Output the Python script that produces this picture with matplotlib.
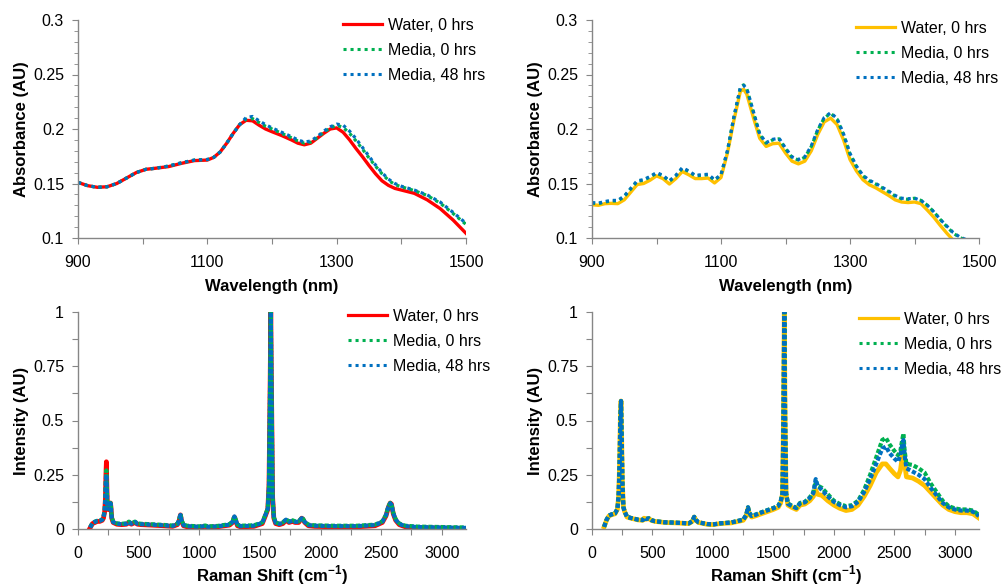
import matplotlib
matplotlib.use('Agg')
import matplotlib.pyplot as plt
from matplotlib.lines import Line2D
from matplotlib.ticker import MultipleLocator, FixedLocator, FixedFormatter

plt.rcParams['font.family'] = ['Liberation Sans', 'DejaVu Sans']
plt.rcParams['mathtext.fontset'] = 'custom'
plt.rcParams['mathtext.rm'] = 'Liberation Sans'
plt.rcParams['mathtext.bf'] = 'Liberation Sans:bold'

## data ##

labels = ['Water, 0 hrs', 'Media, 0 hrs', 'Media, 48 hrs']

# NIR, left panel
nir_x_a = [900, 915, 930, 945, 960, 975, 990, 1005, 1020, 1040, 1060, 1080, 1100, 1110, 1120,
           1130, 1140, 1150, 1160, 1170, 1180, 1190, 1200, 1215, 1230, 1240, 1250, 1260, 1270,
           1280, 1290, 1300, 1310, 1320, 1330, 1340, 1350, 1360, 1370, 1380, 1390, 1400, 1420,
           1440, 1460, 1480, 1500]
nir_water_a = [0.151, 0.148, 0.1465, 0.147, 0.150, 0.155, 0.160, 0.163, 0.164, 0.1655, 0.1685,
               0.171, 0.1715, 0.174, 0.179, 0.187, 0.196, 0.204, 0.208, 0.2075, 0.2035, 0.200,
               0.1975, 0.194, 0.190, 0.187, 0.1855, 0.187, 0.1915, 0.196, 0.200, 0.201, 0.197,
               0.190, 0.182, 0.1745, 0.1665, 0.159, 0.1525, 0.1483, 0.1455, 0.144, 0.141, 0.135,
               0.127, 0.1165, 0.1043]
nir_media0_a = [0.151, 0.148, 0.1465, 0.147, 0.150, 0.155, 0.160, 0.163, 0.164, 0.166, 0.169,
                0.1715, 0.172, 0.174, 0.179, 0.187, 0.196, 0.204, 0.209, 0.2095, 0.206, 0.2025,
                0.200, 0.196, 0.192, 0.189, 0.187, 0.188, 0.192, 0.197, 0.201, 0.2035, 0.2015,
                0.196, 0.189, 0.1815, 0.1735, 0.166, 0.159, 0.153, 0.149, 0.147, 0.1435, 0.139,
                0.132, 0.1225, 0.1125]
nir_media48_a = [0.151, 0.148, 0.1465, 0.147, 0.150, 0.155, 0.160, 0.163, 0.164, 0.166, 0.169,
                 0.1715, 0.172, 0.174, 0.179, 0.187, 0.196, 0.204, 0.2105, 0.2115, 0.2075, 0.204,
                 0.201, 0.197, 0.193, 0.190, 0.188, 0.189, 0.193, 0.198, 0.202, 0.2045, 0.2035,
                 0.198, 0.191, 0.183, 0.175, 0.167, 0.160, 0.154, 0.150, 0.1475, 0.144, 0.1395,
                 0.133, 0.1235, 0.1135]

# NIR, right panel
nir_x_b = [900, 910, 920, 930, 940, 950, 960, 970, 980, 990, 1000, 1010, 1020, 1030, 1040, 1050,
           1060, 1070, 1080, 1090, 1100, 1110, 1120, 1130, 1135, 1140, 1150, 1160, 1170, 1180,
           1190, 1200, 1210, 1220, 1230, 1240, 1250, 1260, 1270, 1280, 1290, 1300, 1310, 1320,
           1330, 1340, 1350, 1360, 1370, 1380, 1390, 1400, 1410, 1420, 1430, 1440, 1450, 1460,
           1470, 1480, 1490, 1500]
nir_water_b = [0.1305, 0.130, 0.1315, 0.1318, 0.1315, 0.135, 0.142, 0.149, 0.150, 0.153, 0.157,
               0.1545, 0.1495, 0.1545, 0.161, 0.158, 0.1545, 0.1545, 0.155, 0.1505, 0.1555, 0.178,
               0.208, 0.2345, 0.2365, 0.232, 0.211, 0.1915, 0.184, 0.1865, 0.187, 0.178, 0.1705,
               0.168, 0.1705, 0.180, 0.195, 0.2065, 0.210, 0.204, 0.190, 0.172, 0.1615, 0.1535,
               0.1488, 0.146, 0.1425, 0.139, 0.135, 0.133, 0.1325, 0.133, 0.1315, 0.1255, 0.119,
               0.1115, 0.1045, 0.098, 0.092, 0.086, 0.080, 0.074]
nir_media0_b = [0.132, 0.1315, 0.133, 0.134, 0.134, 0.138, 0.145, 0.152, 0.153, 0.156, 0.1595,
                0.157, 0.152, 0.157, 0.164, 0.161, 0.157, 0.1575, 0.158, 0.153, 0.158, 0.180,
                0.211, 0.238, 0.2405, 0.237, 0.216, 0.195, 0.187, 0.190, 0.191, 0.182, 0.174,
                0.1715, 0.174, 0.184, 0.199, 0.210, 0.2145, 0.209, 0.195, 0.177, 0.1655, 0.157,
                0.1525, 0.1495, 0.146, 0.1425, 0.1385, 0.136, 0.1355, 0.1365, 0.1345, 0.130,
                0.124, 0.117, 0.1105, 0.1045, 0.1005, 0.098, 0.095, 0.092]
nir_media48_b = [0.1325, 0.132, 0.1335, 0.1345, 0.1345, 0.1385, 0.1455, 0.1525, 0.1535, 0.1565,
                 0.160, 0.1575, 0.1525, 0.1575, 0.1645, 0.1615, 0.1575, 0.158, 0.1585, 0.1535,
                 0.158, 0.180, 0.211, 0.238, 0.240, 0.237, 0.2165, 0.1955, 0.1875, 0.1905, 0.1915,
                 0.1825, 0.1745, 0.172, 0.1745, 0.1845, 0.1995, 0.2105, 0.215, 0.2095, 0.1955,
                 0.1775, 0.166, 0.1575, 0.153, 0.150, 0.1465, 0.143, 0.139, 0.1365, 0.136, 0.1365,
                 0.1345, 0.130, 0.124, 0.117, 0.111, 0.105, 0.101, 0.0985, 0.0955, 0.0925]

# Raman, left panel
ram_x_a = [100, 120, 140, 160, 180, 200, 210, 220, 226, 230, 234, 238, 242, 248, 255, 262, 268,
           272, 278, 290, 320, 360, 400, 420, 440, 470, 490, 520, 600, 700, 780, 820, 835, 845,
           855, 870, 900, 1000, 1050, 1070, 1150, 1250, 1275, 1290, 1300, 1315, 1340, 1450, 1520,
           1545, 1555, 1565, 1575, 1585, 1590, 1595, 1605, 1615, 1630, 1660, 1690, 1715, 1740,
           1770, 1790, 1820, 1845, 1855, 1870, 1900, 1950, 2100, 2300, 2450, 2510, 2540, 2560,
           2575, 2585, 2600, 2620, 2650, 2700, 2800, 2900, 3000, 3100, 3200]
ram_water_a = [0.005, 0.025, 0.030, 0.035, 0.035, 0.040, 0.050, 0.080, 0.140, 0.250, 0.310,
               0.200, 0.110, 0.090, 0.090, 0.100, 0.120, 0.100, 0.050, 0.030, 0.022, 0.020,
               0.022, 0.030, 0.022, 0.030, 0.022, 0.020, 0.018, 0.015, 0.012, 0.020, 0.040,
               0.065, 0.035, 0.015, 0.010, 0.008, 0.012, 0.008, 0.010, 0.018, 0.030, 0.055,
               0.040, 0.015, 0.010, 0.012, 0.025, 0.060, 0.075, 0.090, 0.200, 0.700, 1.000,
               0.700, 0.150, 0.050, 0.025, 0.020, 0.025, 0.040, 0.030, 0.035, 0.030, 0.030,
               0.050, 0.045, 0.030, 0.015, 0.012, 0.010, 0.010, 0.015, 0.030, 0.060, 0.100,
               0.120, 0.115, 0.070, 0.040, 0.020, 0.010, 0.006, 0.005, 0.004, 0.003, 0.002]
ram_media0_a = [0.008, 0.028, 0.034, 0.038, 0.039, 0.044, 0.055, 0.085, 0.150, 0.230, 0.270,
                0.190, 0.115, 0.095, 0.095, 0.105, 0.120, 0.100, 0.055, 0.034, 0.026, 0.024,
                0.026, 0.034, 0.026, 0.034, 0.026, 0.024, 0.022, 0.019, 0.016, 0.024, 0.045,
                0.070, 0.040, 0.020, 0.015, 0.012, 0.016, 0.012, 0.014, 0.022, 0.035, 0.060,
                0.045, 0.020, 0.015, 0.017, 0.030, 0.065, 0.080, 0.095, 0.200, 0.700, 1.000,
                0.700, 0.150, 0.055, 0.030, 0.025, 0.030, 0.045, 0.035, 0.040, 0.035, 0.035,
                0.052, 0.048, 0.034, 0.020, 0.017, 0.015, 0.015, 0.020, 0.035, 0.065, 0.105,
                0.120, 0.115, 0.075, 0.045, 0.025, 0.015, 0.011, 0.010, 0.009, 0.008, 0.007]
ram_media48_a = [0.007, 0.027, 0.033, 0.037, 0.038, 0.043, 0.053, 0.082, 0.145, 0.220, 0.250,
                 0.185, 0.112, 0.093, 0.093, 0.103, 0.118, 0.098, 0.053, 0.032, 0.024, 0.022,
                 0.024, 0.032, 0.024, 0.032, 0.024, 0.022, 0.020, 0.017, 0.014, 0.022, 0.043,
                 0.065, 0.038, 0.018, 0.013, 0.010, 0.014, 0.010, 0.012, 0.020, 0.033, 0.058,
                 0.043, 0.018, 0.013, 0.015, 0.028, 0.063, 0.078, 0.093, 0.200, 0.700, 1.000,
                 0.700, 0.150, 0.053, 0.028, 0.023, 0.028, 0.043, 0.033, 0.038, 0.033, 0.033,
                 0.050, 0.046, 0.032, 0.018, 0.015, 0.013, 0.013, 0.018, 0.033, 0.063, 0.103,
                 0.118, 0.113, 0.073, 0.043, 0.023, 0.013, 0.009, 0.008, 0.007, 0.006, 0.005]

# Raman, right panel
ram_x_b = [100, 120, 140, 160, 190, 210, 220, 228, 234, 240, 246, 252, 260, 270, 290, 320, 380,
           420, 430, 445, 470, 490, 520, 600, 700, 800, 830, 845, 860, 880, 950, 1000, 1060, 1150,
           1250, 1275, 1290, 1300, 1320, 1350, 1400, 1450, 1500, 1540, 1560, 1575, 1583, 1590,
           1597, 1605, 1620, 1650, 1690, 1720, 1760, 1800, 1830, 1850, 1865, 1900, 1950, 2000,
           2050, 2100, 2150, 2200, 2250, 2300, 2350, 2400, 2430, 2460, 2500, 2530, 2550, 2565,
           2575, 2585, 2600, 2650, 2700, 2750, 2800, 2850, 2900, 2950, 3000, 3050, 3100, 3150,
           3200]
ram_water_b = [0.010, 0.040, 0.060, 0.065, 0.070, 0.090, 0.150, 0.300, 0.500, 0.590, 0.400,
               0.200, 0.100, 0.080, 0.055, 0.050, 0.042, 0.040, 0.050, 0.045, 0.048, 0.040,
               0.035, 0.030, 0.028, 0.025, 0.035, 0.055, 0.040, 0.030, 0.022, 0.020, 0.025,
               0.028, 0.040, 0.060, 0.095, 0.070, 0.055, 0.060, 0.070, 0.080, 0.090, 0.100,
               0.120, 0.160, 0.500, 1.000, 0.500, 0.160, 0.110, 0.100, 0.090, 0.110, 0.115,
               0.130, 0.150, 0.180, 0.160, 0.155, 0.130, 0.110, 0.095, 0.085, 0.090, 0.110,
               0.150, 0.200, 0.260, 0.300, 0.300, 0.280, 0.255, 0.240, 0.270, 0.330, 0.370,
               0.300, 0.240, 0.235, 0.220, 0.200, 0.170, 0.140, 0.110, 0.090, 0.080, 0.075,
               0.075, 0.070, 0.050]
ram_media0_b = [0.010, 0.042, 0.062, 0.067, 0.072, 0.092, 0.150, 0.300, 0.500, 0.590, 0.400,
                0.200, 0.100, 0.080, 0.056, 0.051, 0.043, 0.041, 0.051, 0.046, 0.049, 0.041,
                0.036, 0.031, 0.029, 0.026, 0.036, 0.056, 0.041, 0.031, 0.023, 0.021, 0.026,
                0.030, 0.043, 0.064, 0.100, 0.075, 0.060, 0.066, 0.077, 0.087, 0.097, 0.107,
                0.127, 0.165, 0.500, 1.000, 0.500, 0.165, 0.118, 0.108, 0.098, 0.120, 0.125,
                0.145, 0.170, 0.220, 0.200, 0.190, 0.160, 0.130, 0.115, 0.105, 0.110, 0.130,
                0.180, 0.250, 0.330, 0.410, 0.420, 0.390, 0.360, 0.340, 0.360, 0.410, 0.440,
                0.360, 0.300, 0.295, 0.280, 0.260, 0.210, 0.170, 0.130, 0.105, 0.095, 0.090,
                0.090, 0.085, 0.065]
ram_media48_b = [0.010, 0.042, 0.062, 0.067, 0.072, 0.092, 0.150, 0.300, 0.500, 0.590, 0.400,
                 0.200, 0.100, 0.080, 0.056, 0.051, 0.043, 0.041, 0.051, 0.046, 0.049, 0.041,
                 0.036, 0.031, 0.029, 0.026, 0.036, 0.056, 0.041, 0.031, 0.023, 0.021, 0.026,
                 0.030, 0.043, 0.064, 0.100, 0.075, 0.060, 0.065, 0.076, 0.086, 0.096, 0.106,
                 0.126, 0.165, 0.500, 1.000, 0.500, 0.165, 0.116, 0.106, 0.096, 0.118, 0.123,
                 0.142, 0.165, 0.230, 0.200, 0.180, 0.150, 0.125, 0.110, 0.100, 0.105, 0.125,
                 0.170, 0.230, 0.300, 0.370, 0.380, 0.350, 0.325, 0.310, 0.340, 0.390, 0.410,
                 0.340, 0.280, 0.265, 0.250, 0.230, 0.190, 0.155, 0.120, 0.100, 0.090, 0.085,
                 0.085, 0.080, 0.060]

## plot ##

W, H = 1008, 587
fig = plt.figure(figsize=(W / 100, H / 100), dpi=100)


def box(left, right, top, bottom):
    return [left / W, 1 - bottom / H, (right - left) / W, (bottom - top) / H]


def style(ax):
    for s in ['top', 'right']:
        ax.spines[s].set_visible(False)
    for s in ['left', 'bottom']:
        ax.spines[s].set_color('#868686')
        ax.spines[s].set_linewidth(1.0)
    ax.tick_params(which='both', direction='out', colors='#868686', labelcolor='black',
                   labelsize=11.5)
    ax.tick_params(axis='y', pad=6)
    ax.tick_params(axis='x', pad=8)
    ax.tick_params(which='major', length=4)
    ax.tick_params(which='minor', length=3)


def add_legend(ax, wcolor, x, y):
    # legend keys are thinner than the plotted spectra
    handles = [Line2D([], [], color=wcolor, lw=2.3),
               Line2D([], [], color=green, lw=2.2, ls=(0, (1, 1.3))),
               Line2D([], [], color=blue, lw=2.2, ls=(0, (1, 1.3)))]
    ax.legend(handles, labels, loc='upper left', bbox_to_anchor=(x / W, 1 - y / H),
              bbox_transform=fig.transFigure, frameon=False, fontsize=11.5,
              handlelength=2.45, handletextpad=0.35, labelspacing=0.62,
              borderpad=0, borderaxespad=0)


water_colors = ['#FF0000', '#FFC000']
green = '#00B050'
blue = '#0070C0'
dot = (0, (1, 1.2))
dense = (0, (1, 0.5))

nir_sets = [(nir_x_a, nir_water_a, nir_media0_a, nir_media48_a),
            (nir_x_b, nir_water_b, nir_media0_b, nir_media48_b)]
ram_sets = [(ram_x_a, ram_water_a, ram_media0_a, ram_media48_a),
            (ram_x_b, ram_water_b, ram_media0_b, ram_media48_b)]
lefts = [(78, 466), (592, 979)]
leg_top = [(343, 18), (856, 21)]
leg_bot = [(348, 309), (859, 312)]

for i in range(2):
    l, r = lefts[i]

    # NIR absorbance
    ax = fig.add_axes(box(l, r, 20, 238))
    x, w, m0, m48 = nir_sets[i]
    ax.plot(x, w, color=water_colors[i], lw=2.4)
    ax.plot(x, m0, color=green, lw=2.3, ls=dot)
    ax.plot(x, m48, color=blue, lw=2.3, ls=dot)
    ax.set_xlim(900, 1500)
    ax.set_ylim(0.1, 0.3)
    ax.xaxis.set_major_locator(FixedLocator([900, 1000, 1100, 1200, 1300, 1400, 1500]))
    ax.xaxis.set_major_formatter(FixedFormatter(['900', '', '1100', '', '1300', '', '1500']))
    ax.yaxis.set_major_locator(FixedLocator([0.1, 0.15, 0.2, 0.25, 0.3]))
    ax.yaxis.set_major_formatter(FixedFormatter(['0.1', '0.15', '0.2', '0.25', '0.3']))
    ax.yaxis.set_minor_locator(MultipleLocator(0.01))
    style(ax)
    ax.set_xlabel('Wavelength (nm)', fontsize=12, fontweight='bold', labelpad=7)
    ax.set_ylabel('Absorbance (AU)', fontsize=12, fontweight='bold', labelpad=3)
    add_legend(ax, water_colors[i], *leg_top[i])

    # Raman intensity
    ax = fig.add_axes(box(l, r, 312, 529))
    x, w, m0, m48 = ram_sets[i]
    ax.plot(x, w, color=water_colors[i], lw=3.4)
    ax.plot(x, m0, color=green, lw=3.0, ls=dense)
    ax.plot(x, m48, color=blue, lw=3.0, ls=dense)
    ax.set_xlim(0, 3200)
    ax.set_ylim(0, 1)
    ax.xaxis.set_major_locator(FixedLocator(list(range(0, 3250, 250))))
    ax.xaxis.set_major_formatter(FixedFormatter(
        [str(v) if v % 500 == 0 else '' for v in range(0, 3250, 250)]))
    ax.yaxis.set_major_locator(FixedLocator([0, 0.125, 0.25, 0.375, 0.5, 0.625, 0.75, 0.875, 1]))
    ax.yaxis.set_major_formatter(FixedFormatter(['0', '', '0.25', '', '0.5', '', '0.75', '', '1']))
    style(ax)
    ax.set_xlabel(r'Raman Shift (cm$^{\mathbf{-1}}$)', fontsize=12, fontweight='bold', labelpad=2)
    ax.set_ylabel('Intensity (AU)', fontsize=12, fontweight='bold', labelpad=3)
    add_legend(ax, water_colors[i], *leg_bot[i])

fig.savefig('out.png', dpi=100)
